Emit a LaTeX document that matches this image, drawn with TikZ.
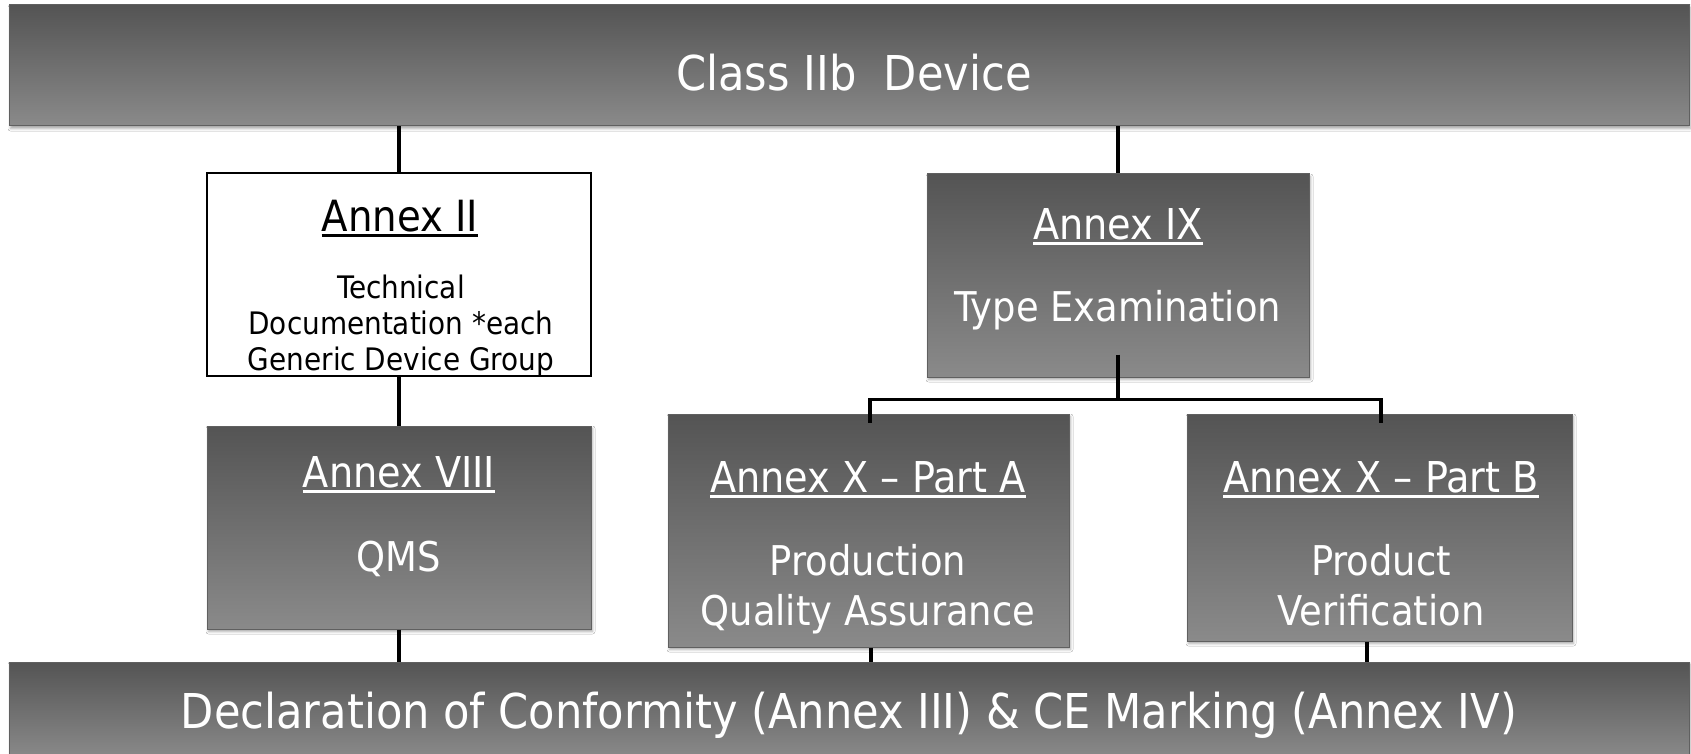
\documentclass[tikz,border=0pt]{standalone}
\usepackage{fontspec}
\setmainfont{DejaVu Sans Condensed}
\usetikzlibrary{shadows.blur}
\definecolor{gtop}{RGB}{84,84,84}
\definecolor{gbot}{RGB}{138,138,138}
\definecolor{gedge}{RGB}{96,96,96}
\newcommand{\ulx}[1]{\setbox0\hbox{#1}\rlap{\rule[-5.5pt]{\wd0}{2.2pt}}\box0}
\begin{document}
\begin{tikzpicture}[x=1pt,y=-1pt,
  darkbox/.style={draw=gedge, line width=1pt, top color=gtop, bottom color=gbot,
    inner sep=0pt,
    blur shadow={shadow xshift=1.5pt, shadow yshift=-2.5pt, shadow blur radius=2.5pt, shadow opacity=35}},
  whitebox/.style={draw=black, line width=2pt, fill=white, inner sep=0pt},
  conn/.style={draw=black, line width=3.6pt},
  bigtxt/.style={text=white, anchor=base, inner sep=0pt, font=\fontsize{48}{48}\selectfont},
  headw/.style={text=white, anchor=base, inner sep=0pt, font=\fontsize{42.5}{42.5}\selectfont},
  bodyw/.style={text=white, anchor=base, inner sep=0pt, font=\fontsize{41}{41}\selectfont},
  headb/.style={text=black, anchor=base, inner sep=0pt, font=\fontsize{43}{43}\selectfont},
  bodyb/.style={text=black, anchor=base, inner sep=0pt, font=\fontsize{31}{31}\selectfont}
]
\useasboundingbox (0,0) rectangle (1691,754);
\fill[white] (0,0) rectangle (1691,754);

% boxes
\node[darkbox, minimum width=1680pt, minimum height=121pt] (top) at (849,65.5) {};
\node[whitebox, minimum width=384pt, minimum height=203pt] (a2) at (399,274.5) {};
\node[darkbox, minimum width=384pt, minimum height=203pt] (a8) at (399,527.5) {};
\node[darkbox, minimum width=382pt, minimum height=203pt] (a9) at (1118,275.5) {};
\node[darkbox, minimum width=401pt, minimum height=233pt] (pa) at (868.5,530.5) {};
\node[darkbox, minimum width=385pt, minimum height=227pt] (pb) at (1379.5,527.5) {};
\node[darkbox, minimum width=1680pt, minimum height=96pt] (bot) at (849,710) {};

% connectors
\draw[conn] (top.south -| a2.north) -- (a2.north);
\draw[conn] (a2.south) -- (a8.north);
\draw[conn] (a8.south) -- (a8.south |- bot.north);
\draw[conn] (top.south -| a9.north) -- (a9.north);
\draw[conn] ([yshift=23pt]a9.south) -- ++(0,45) coordinate (hub) -| ([xshift=1.5pt,yshift=-9pt]pa.north);
\draw[conn] (hub) -| ([xshift=1.5pt,yshift=-9pt]pb.north);
\draw[conn] ([xshift=2.5pt]pa.south) -- ([xshift=2.5pt]pa.south |- bot.north);
\draw[conn] ([xshift=-12.5pt]pb.south) -- ([xshift=-12.5pt]pb.south |- bot.north);

% texts
\node[bigtxt] (ttop) at (854,91) {Class IIb\ \ Device};
\node[headb] (t2h) at (400,231) {\ulx{Annex II}};
\node[bodyb] (t2a) at (401,298) {Technical};
\node[bodyb] (t2b) at (401,334) {Documentation *each};
\node[bodyb] (t2c) at (401,370) {Generic Device Group};
\node[headw] (t8h) at (399,487) {\ulx{Annex VIII}};
\node[bodyw] (t8a) at (399,571) {QMS};
\node[headw] (t9h) at (1118,239) {\ulx{Annex IX}};
\node[bodyw] (t9a) at (1118,321) {Type Examination};
\node[headw] (tah) at (868,492) {\ulx{Annex X – Part A}};
\node[bodyw] (taa) at (868,575) {Production};
\node[bodyw] (tab) at (868,625) {Quality Assurance};
\node[headw] (tbh) at (1381,492) {\ulx{Annex X – Part B}};
\node[bodyw] (tba) at (1381,575) {Product};
\node[bodyw] (tbb) at (1381,625) {Verification};
\node[bigtxt] (tbot) at (849,728) {Declaration of Conformity (Annex III) \& CE Marking (Annex IV)};
\end{tikzpicture}
\end{document}
